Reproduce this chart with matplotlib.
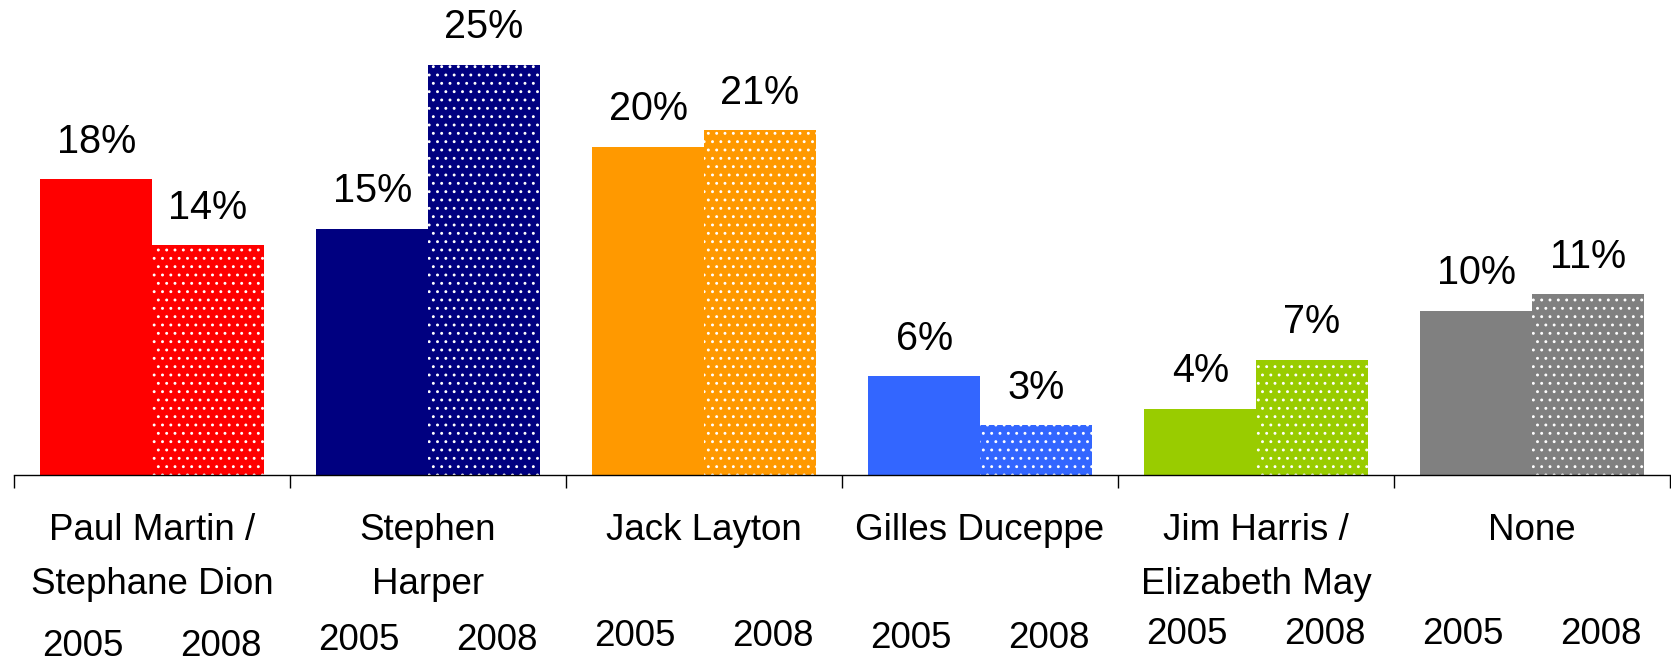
import numpy as np
import matplotlib
matplotlib.use('Agg')
import matplotlib.pyplot as plt

# data
categories = ['Paul Martin /\nStephane Dion', 'Stephen\nHarper', 'Jack Layton',
              'Gilles Duceppe', 'Jim Harris /\nElizabeth May', 'None']
years = ['2005', '2008']
share_2005 = [18, 15, 20, 6, 4, 10]
share_2008 = [14, 25, 21, 3, 7, 11]
colors = ['#FF0000', '#000080', '#FF9900', '#3366FF', '#99CC00', '#808080']

plt.rcParams['font.family'] = ['Liberation Sans', 'DejaVu Sans']
plt.rcParams['hatch.linewidth'] = 0.9

W, H = 1671, 661
fig = plt.figure(figsize=(W / 100, H / 100), dpi=100)
base_px = 474.6
ax = fig.add_axes([14 / W, (H - base_px) / H, (1670 - 14) / W, base_px / H])

x = np.arange(len(categories)) + 0.5
bw = 0.404
fs = 26.5
fs_val = 28.5

b1 = ax.bar(x - bw / 2, share_2005, bw, color=colors, linewidth=0)
b2 = ax.bar(x + bw / 2, share_2008, bw, color=colors, edgecolor='white',
            linewidth=0, hatch='..')

for bars, vals in ((b1, share_2005), (b2, share_2008)):
    for r, v in zip(bars, vals):
        ax.annotate('{}%'.format(v), (r.get_x() + r.get_width() / 2, v),
                    xytext=(0, 27), textcoords='offset points',
                    ha='center', va='center', fontsize=fs_val, annotation_clip=False)

ax.set_xlim(0, len(categories))
ax.set_ylim(0, base_px / 16.4)
ax.set_xticks(np.arange(len(categories) + 1))
ax.set_xticklabels([])
ax.tick_params(axis='x', direction='out', length=9.4, width=1, color='black')
ax.set_yticks([])
for s in ('top', 'left', 'right'):
    ax.spines[s].set_visible(False)
ax.spines['bottom'].set_linewidth(1)

# category names and year labels under each group
year_y = [646, 640, 637, 639, 635, 635]
for i, name in enumerate(categories):
    lines = name.split('\n')
    for j, ln in enumerate(lines):
        fig.text(ax.transData.transform((x[i], 0))[0] / W, 1 - (530 + 54 * j) / H, ln,
                 ha='center', va='center', fontsize=fs)
    for k, yr in enumerate(years):
        xx = x[i] + (k - 0.5) * 0.5
        fig.text(ax.transData.transform((xx, 0))[0] / W, 1 - year_y[i] / H, yr,
                 ha='center', va='center', fontsize=fs)

fig.savefig('out.png', dpi=100)
